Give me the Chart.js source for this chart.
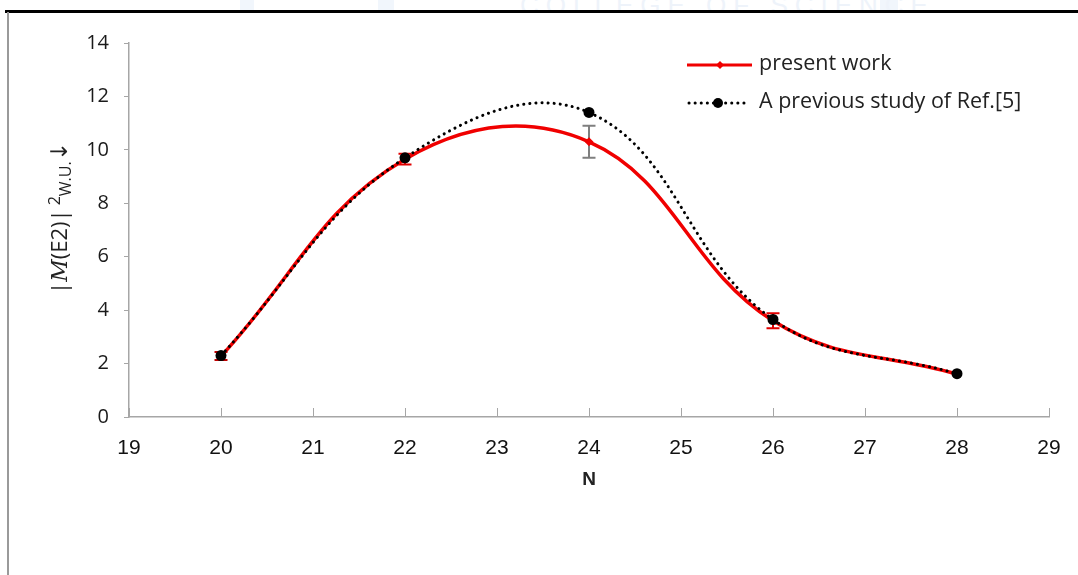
<!DOCTYPE html>
<html>
<head>
<meta charset="utf-8">
<script src="https://cdn.jsdelivr.net/npm/chart.js@4/dist/chart.umd.min.js"></script>
<style>
  html, body { margin: 0; padding: 0; background: #fff; }
  #wrap { position: relative; width: 1078px; height: 575px; overflow: hidden; background: #fff; }
  #wm { position: absolute; left: 0; top: 0; width: 1078px; height: 11px; overflow: hidden; }
  #wm .t { position: absolute; left: 520px; top: -10px; font: 26px "Liberation Sans", Arial, sans-serif; color: #eef3fa; letter-spacing: 7px; white-space: nowrap; }
  #wm .b { position: absolute; top: 0; height: 11px; background: #f1f6fc; }
  #frameTop { position: absolute; left: 5px; top: 10px; width: 1073px; height: 3px; background: #000; }
  #frameLeft { position: absolute; left: 7px; top: 12px; width: 2px; height: 563px; background: #9a9a9a; }
  canvas { position: absolute; left: 0; top: 0; }
</style>
</head>
<body>
<div id="wrap">
  <div id="wm">
    <div class="b" style="left:240px;width:14px"></div>
    <div class="b" style="left:378px;width:16px"></div>
    <div class="b" style="left:880px;width:18px"></div>
    <div class="t">COLLEGE OF SCIENCE</div>
  </div>
  <div id="frameTop"></div>
  <div id="frameLeft"></div>
  <canvas id="c" width="1078" height="575"></canvas>
</div>
<script>
// ---- data ----
const nValues = [20, 22, 24, 26, 28];
const presentWork = [2.28, 9.65, 10.30, 3.60, 1.60];
const presentErr = [0.15, 0.20, 0.60, 0.28, 0];
const previousStudy = [2.30, 9.70, 11.40, 3.65, 1.62];
const xTicks = [19, 20, 21, 22, 23, 24, 25, 26, 27, 28, 29];
const yTicks = [0, 2, 4, 6, 8, 10, 12, 14];
const seriesNames = ["present work", "A previous study of Ref.[5]"];
const xTitle = "N";

// ---- styles ----
const RED = "#f00000";
const errColors = ["#c00000", "#e00000", "#7f7f7f", "#e00000", "#e00000"];
const AXIS = "#a6a6a6";
const TICKFONT_Y = '"Open Sans", "Noto Sans", sans-serif';
const TICKFONT_X = '"Liberation Sans Narrow", "Liberation Sans", Arial, sans-serif';

const toPts = (ys) => nValues.map((x, i) => ({ x: x, y: ys[i] }));

const errorBars = {
  id: "errorBars",
  beforeDatasetsDraw(chart) {
    const ctx = chart.ctx, xs = chart.scales.x, ys = chart.scales.y;
    ctx.save();
    ctx.lineWidth = 2;
    nValues.forEach((n, i) => {
      const e = presentErr[i];
      if (!e) return;
      const px = xs.getPixelForValue(n);
      const y1 = ys.getPixelForValue(presentWork[i] + e);
      const y2 = ys.getPixelForValue(presentWork[i] - e);
      ctx.strokeStyle = errColors[i];
      ctx.beginPath();
      ctx.moveTo(px, y1); ctx.lineTo(px, y2);
      ctx.moveTo(px - 6.5, y1); ctx.lineTo(px + 6.5, y1);
      ctx.moveTo(px - 6.5, y2); ctx.lineTo(px + 6.5, y2);
      ctx.stroke();
    });
    ctx.restore();
  }
};

const decorations = {
  id: "decorations",
  afterDraw(chart) {
    const ctx = chart.ctx, xs = chart.scales.x, ys = chart.scales.y, ca = chart.chartArea;
    ctx.save();
    // inward x ticks
    ctx.strokeStyle = AXIS;
    ctx.lineWidth = 1;
    xTicks.forEach(v => {
      const px = Math.round(xs.getPixelForValue(v)) + 0.5;
      ctx.beginPath();
      ctx.moveTo(px, ca.bottom);
      ctx.lineTo(px, ca.bottom - 9);
      ctx.stroke();
    });
    // x title
    ctx.fillStyle = "#222";
    ctx.font = 'bold 19px "Liberation Sans", Arial, sans-serif';
    ctx.textAlign = "center";
    ctx.textBaseline = "middle";
    ctx.fillText(xTitle, (ca.left + ca.right) / 2, ca.bottom + 63);

    // y title: |M(E2)|^2_{W.U.} arrow
    ctx.save();
    ctx.translate(61, 218);
    ctx.rotate(-Math.PI / 2);
    ctx.textBaseline = "middle";
    ctx.textAlign = "left";
    const base = '22px "Open Sans", "Noto Sans", sans-serif';
    const ital = 'italic 22px "DejaVu Serif", "Liberation Serif", serif';
    const small = '16px "Open Sans", "Noto Sans", sans-serif';
    const parts = [
      { t: "|", f: base, dy: 0 },
      { t: "M", f: ital, dy: 0 },
      { t: "(E2)", f: base, dy: 0 },
      { t: "|", f: base, dy: 0 },
      { t: " ", f: small, dy: 0 },
      { t: "2", f: small, dy: -6 },
      { t: "W.U.", f: small, dy: 5 },
      { t: "↓", f: '23px "DejaVu Sans", sans-serif', dy: 0 }
    ];
    let w = 0;
    parts.forEach(p => { ctx.font = p.f; p.w = ctx.measureText(p.t).width; w += p.w; });
    let x = -w / 2;
    ctx.fillStyle = "#222";
    parts.forEach(p => { ctx.font = p.f; ctx.fillText(p.t, x, p.dy); x += p.w; });
    ctx.restore();

    // legend
    ctx.textAlign = "left";
    ctx.textBaseline = "middle";
    ctx.font = '21.5px "Open Sans", "Noto Sans", sans-serif';
    ctx.fillStyle = "#222";
    const lx = 687, ly1 = 65, ly2 = 103;
    ctx.strokeStyle = RED; ctx.lineWidth = 3; ctx.setLineDash([]);
    ctx.beginPath(); ctx.moveTo(lx, ly1); ctx.lineTo(lx + 65, ly1); ctx.stroke();
    ctx.fillStyle = RED;
    ctx.beginPath();
    ctx.moveTo(lx + 33, ly1 - 4); ctx.lineTo(lx + 37, ly1); ctx.lineTo(lx + 33, ly1 + 4); ctx.lineTo(lx + 29, ly1);
    ctx.closePath(); ctx.fill();
    ctx.fillStyle = "#222";
    ctx.fillText(seriesNames[0], lx + 72, ly1 - 1);
    ctx.strokeStyle = "#000"; ctx.lineWidth = 3; ctx.lineCap = "round"; ctx.setLineDash([0.1, 6]);
    ctx.beginPath(); ctx.moveTo(lx + 2, ly2); ctx.lineTo(lx + 62, ly2); ctx.stroke();
    ctx.setLineDash([]);
    ctx.fillStyle = "#000";
    ctx.beginPath(); ctx.arc(lx + 31, ly2, 5, 0, Math.PI * 2); ctx.fill();
    ctx.fillStyle = "#222";
    ctx.fillText(seriesNames[1], lx + 72, ly2 - 1);
    ctx.restore();
  }
};

new Chart(document.getElementById("c"), {
  type: "scatter",
  data: {
    datasets: [
      {
        label: seriesNames[1],
        data: toPts(previousStudy),
        showLine: true,
        tension: 0.4,
        borderColor: "#000",
        borderWidth: 3,
        borderDash: [0.1, 6],
        borderCapStyle: "round",
        pointRadius: 5.5,
        pointBackgroundColor: "#000",
        pointBorderColor: "#000",
        pointBorderWidth: 0,
        order: 0
      },
      {
        label: seriesNames[0],
        data: toPts(presentWork),
        showLine: true,
        tension: 0.4,
        borderColor: RED,
        borderWidth: 3.5,
        pointStyle: "rectRot",
        pointRadius: 4.5,
        pointBackgroundColor: RED,
        pointBorderColor: RED,
        pointBorderWidth: 0,
        order: 1
      }
    ]
  },
  options: {
    responsive: false,
    animation: false,
    devicePixelRatio: 1,
    layout: { padding: { left: 0, top: 43, right: 29, bottom: 0 } },
    plugins: { legend: { display: false }, tooltip: { enabled: false } },
    scales: {
      x: {
        type: "linear",
        min: xTicks[0], max: xTicks[xTicks.length - 1],
        afterFit(s) { s.height = 158; },
        afterBuildTicks(s) { s.ticks = xTicks.map(v => ({ value: v })); },
        grid: { display: false },
        border: { display: true, color: AXIS, width: 1.5 },
        ticks: { color: "#111", font: { family: TICKFONT_X, size: 21 }, padding: 11, maxRotation: 0 }
      },
      y: {
        type: "linear",
        min: yTicks[0], max: yTicks[yTicks.length - 1],
        afterFit(s) { s.width = 129; },
        afterBuildTicks(s) { s.ticks = yTicks.map(v => ({ value: v })); },
        grid: { drawOnChartArea: false, drawTicks: true, tickLength: 5, color: AXIS },
        border: { display: true, color: AXIS, width: 1.5 },
        ticks: { color: "#1a1a1a", font: { family: TICKFONT_Y, size: 20 }, padding: 15 }
      }
    }
  },
  plugins: [errorBars, decorations]
});
</script>
</body>
</html>
